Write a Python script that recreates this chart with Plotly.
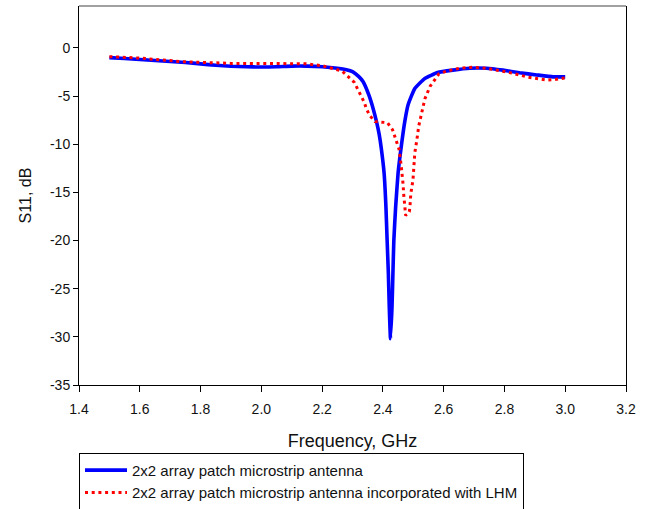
import plotly.graph_objects as go

# Series 1: 2x2 array patch microstrip antenna
freq_blue = [1.50, 1.55, 1.60, 1.65, 1.70, 1.75, 1.80, 1.85, 1.90, 1.95, 2.00, 2.05,
             2.10, 2.15, 2.20, 2.25, 2.28, 2.30, 2.32, 2.335, 2.354, 2.368, 2.379, 2.388,
             2.395, 2.404, 2.410, 2.414, 2.418, 2.421, 2.425, 2.430, 2.433, 2.436,
             2.442, 2.450, 2.461, 2.472, 2.483, 2.505, 2.538, 2.580, 2.630, 2.686,
             2.741, 2.795, 2.850, 2.906, 2.960, 3.000]
s11_blue = [-1.0, -1.1, -1.2, -1.3, -1.4, -1.5, -1.65, -1.8, -1.9, -1.95, -1.98, -1.95,
            -1.88, -1.88, -1.95, -2.1, -2.25, -2.45, -2.95, -3.5, -4.9, -6.3, -7.65, -9.0,
            -10.5, -13.0, -16.5, -20.0, -23.4, -26.9, -30.2, -26.9, -23.4, -20.0,
            -16.5, -13.0, -10.1, -7.65, -5.9, -4.2, -3.16, -2.55, -2.3, -2.1,
            -2.1, -2.3, -2.57, -2.8, -3.0, -3.0]

# Series 2: 2x2 array patch microstrip antenna incorporated with LHM
freq_red = [1.50, 1.60, 1.74, 1.80, 1.90, 2.00, 2.10, 2.15, 2.20, 2.242, 2.266, 2.306,
            2.317, 2.330, 2.339, 2.346, 2.357, 2.374, 2.396, 2.415, 2.432, 2.440,
            2.446, 2.453, 2.459, 2.462, 2.466, 2.469, 2.472, 2.475, 2.487, 2.489,
            2.492, 2.499, 2.502, 2.505, 2.512, 2.518, 2.528, 2.538, 2.555, 2.584,
            2.610, 2.653, 2.697, 2.741, 2.785, 2.829, 2.873, 2.916, 2.938, 2.960,
            2.982, 3.000]
s11_red = [-0.9, -1.05, -1.42, -1.5, -1.6, -1.6, -1.6, -1.65, -1.84, -2.18, -2.4, -3.57,
           -4.27, -4.96, -5.66, -6.35, -7.03, -7.65, -7.7, -7.75, -8.5, -9.2,
           -9.8, -10.5, -11.9, -12.6, -14.0, -15.4, -16.8, -17.4, -17.0, -16.5,
           -15.1, -13.7, -12.3, -10.9, -9.5, -8.1, -6.7, -5.3, -4.0, -2.7,
           -2.4, -2.1, -2.0, -2.1, -2.36, -2.64, -3.0, -3.26, -3.33, -3.3,
           -3.2, -3.1]

x_ticks = [1.4, 1.6, 1.8, 2.0, 2.2, 2.4, 2.6, 2.8, 3.0, 3.2]
x_tick_labels = ["1.4", "1.6", "1.8", "2.0", "2.2", "2.4", "2.6", "2.8", "3.0", "3.2"]
y_ticks = [0, -5, -10, -15, -20, -25, -30, -35]
y_tick_labels = ["0", "-5", "-10", "-15", "-20", "-25", "-30", "-35"]

FONT = "Liberation Sans, Arial, sans-serif"

fig = go.Figure()
fig.add_trace(go.Scatter(
    x=freq_blue, y=s11_blue, mode="lines",
    name="2x2 array patch microstrip antenna",
    line=dict(color="#0000ff", width=3.6, shape="spline", smoothing=0.4),
))
fig.add_trace(go.Scatter(
    x=freq_red, y=s11_red, mode="lines",
    name="2x2 array patch microstrip antenna incorporated with LHM",
    line=dict(color="#ff0000", width=3, dash="3px,3.7px"),
))

fig.update_layout(
    width=645, height=509,
    margin=dict(l=79, r=19, t=6, b=124, autoexpand=False),
    paper_bgcolor="white", plot_bgcolor="white",
    font=dict(family=FONT, size=14, color="#111111"),
    showlegend=True,
    legend=dict(
        x=0, xanchor="left", y=-0.179, yanchor="top",
        bordercolor="black", borderwidth=1, bgcolor="white",
        font=dict(family=FONT, size=15, color="#111111"),
        itemwidth=42, tracegroupgap=0,
    ),
    xaxis=dict(
        range=[1.4, 3.2], tickvals=x_ticks, ticktext=x_tick_labels, automargin=False,
        showgrid=False, zeroline=False,
        showline=True, linecolor="black", linewidth=1,
        ticks="outside", ticklen=6, tickcolor="black",
        ticklabelstandoff=5,
        title=dict(text="Frequency, GHz", font=dict(size=18), standoff=18),
    ),
    yaxis=dict(
        range=[-35, 4.36], tickvals=y_ticks, ticktext=y_tick_labels, automargin=False,
        showgrid=False, zeroline=False,
        showline=True, linecolor="black", linewidth=1, mirror=True,
        ticks="outside", ticklen=5, tickcolor="black",
        title=dict(text="S11, dB", font=dict(size=16), standoff=14),
    ),
    shapes=[dict(type="line", xref="paper", yref="paper", x0=0, x1=1, y0=1, y1=1,
                 line=dict(color="#808080", width=1.5))],
)

fig.write_html("out.html", config={"displayModeBar": False},
               post_script="document.body.style.margin='0px';")
